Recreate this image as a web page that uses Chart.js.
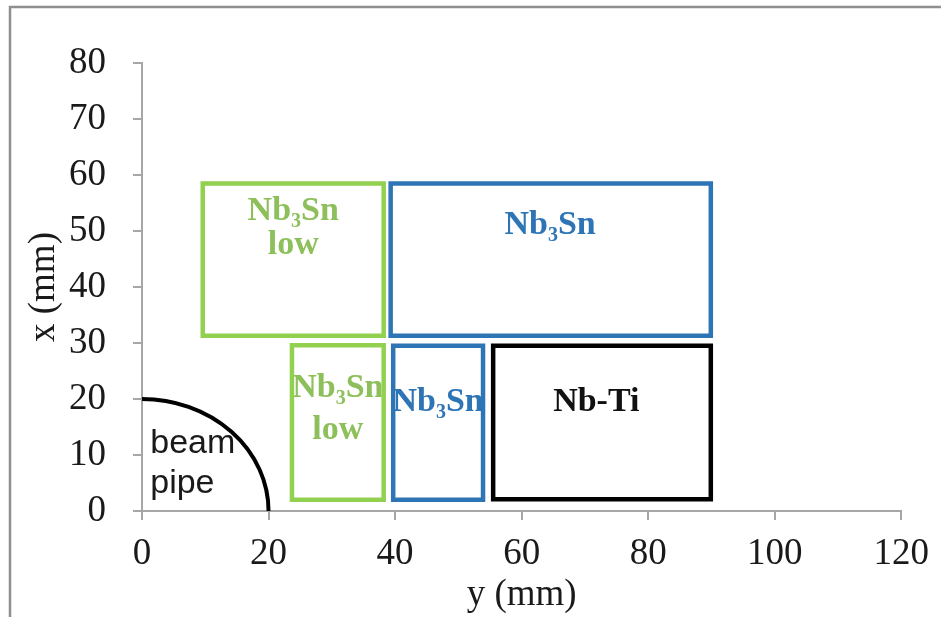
<!DOCTYPE html>
<html>
<head>
<meta charset="utf-8">
<script src="https://cdn.jsdelivr.net/npm/chart.js@4/dist/chart.umd.min.js"></script>
<style>
  html, body { margin: 0; padding: 0; background: #ffffff; }
  canvas { display: block; }
</style>
</head>
<body>
<canvas id="chart" width="941" height="617"></canvas>
<script>
// Coil block outlines in the (y, x) quadrant, in mm
const blockNames  = ['Nb3Sn low outer', 'Nb3Sn low inner', 'Nb3Sn outer', 'Nb3Sn inner', 'Nb-Ti'];
const blockLeft   = [9.6, 23.7, 39.3, 39.7, 55.5];
const blockRight  = [38.2, 38.2, 89.9, 53.9, 89.9];
const blockBottom = [31.3, 2.0, 31.3, 2.0, 2.1];
const blockTop    = [58.5, 29.6, 58.5, 29.5, 29.5];
const blockColors = ['#92D050', '#92D050', '#2E75B6', '#2E75B6', '#000000'];

// Beam pipe radius, mm
const beamPipeRadius = 20;

// Axis ranges and tick steps
const xTicks = [0, 20, 40, 60, 80, 100, 120];
const yTicks = [0, 10, 20, 30, 40, 50, 60, 70, 80];

// Text inside each block ("_3" marks a subscript 3)
const blockLabelLines = [['Nb_3Sn', 'low'], ['Nb_3Sn', 'low'], ['Nb_3Sn'], ['Nb_3Sn'], ['Nb-Ti']];
const blockLabelColors = ['#8DC05A', '#8DC05A', '#2E75B6', '#2E75B6', '#111111'];
// label anchor (centre x, middle y of each line), in data units
const blockLabelX = [23.9, 30.95, 64.5, 46.8, 71.8];
const blockLabelY = [[53.6, 47.5], [22.0, 14.5], [51.1], [19.5], [19.5]];

const pipeLabelLines = ['beam', 'pipe'];
const pipeLabelX = 1.3;
const pipeLabelY = [12.1, 4.8];

const datasets = blockNames.map((name, i) => ({
  label: name,
  data: [
    { x: blockLeft[i],  y: blockBottom[i] },
    { x: blockLeft[i],  y: blockTop[i] },
    { x: blockRight[i], y: blockTop[i] },
    { x: blockRight[i], y: blockBottom[i] },
    { x: blockLeft[i],  y: blockBottom[i] }
  ],
  showLine: true,
  fill: false,
  borderColor: blockColors[i],
  borderWidth: 4.5,
  borderJoinStyle: 'miter',
  borderCapStyle: 'square',
  pointRadius: 0,
  pointHoverRadius: 0,
  tension: 0
}));

// Draws "Nb_3Sn"-style text with a lowered small 3
function drawRichText(ctx, text, cx, cy, size, family, weight) {
  const parts = text.split(/_(\d)/);
  const segs = parts.map((t, k) => ({ t, sub: k % 2 === 1 }));
  const fontFor = s => `${weight} ${s.sub ? Math.round(size * 0.6) : size}px ${family}`;
  let total = 0;
  segs.forEach(s => { ctx.font = fontFor(s); s.w = ctx.measureText(s.t).width; total += s.w; });
  let x = cx - total / 2;
  ctx.textAlign = 'left';
  ctx.textBaseline = 'middle';
  segs.forEach(s => {
    ctx.font = fontFor(s);
    ctx.fillText(s.t, x, s.sub ? cy + size * 0.32 : cy);
    x += s.w;
  });
}

const annotations = {
  id: 'annotations',
  beforeDraw(chart) {
    const ctx = chart.ctx;
    ctx.save();
    ctx.fillStyle = '#ffffff';
    ctx.fillRect(0, 0, chart.width, chart.height);
    // frame edges
    ctx.strokeStyle = '#8f8f8f';
    ctx.lineWidth = 2.5;
    ctx.beginPath();
    ctx.moveTo(10, chart.height);
    ctx.lineTo(10, 7);
    ctx.lineTo(chart.width, 7);
    ctx.stroke();
    ctx.restore();
  },
  beforeDatasetsDraw(chart) {
    const ctx = chart.ctx;
    const xs = chart.scales.x, ys = chart.scales.y;
    blockLabelLines.forEach((lines, i) => {
      const l = xs.getPixelForValue(blockLeft[i]), r = xs.getPixelForValue(blockRight[i]);
      const t = ys.getPixelForValue(blockTop[i]), b = ys.getPixelForValue(blockBottom[i]);
      ctx.save();
      ctx.beginPath();
      ctx.rect(l, t, r - l, b - t);
      ctx.clip();
      ctx.fillStyle = blockLabelColors[i];
      lines.forEach((line, j) => {
        drawRichText(ctx, line, xs.getPixelForValue(blockLabelX[i]), ys.getPixelForValue(blockLabelY[i][j]),
          34, '"Liberation Serif", "Times New Roman", serif', 'bold');
      });
      ctx.restore();
    });
  },
  afterDatasetsDraw(chart) {
    const ctx = chart.ctx;
    const xs = chart.scales.x, ys = chart.scales.y;
    const x0 = xs.getPixelForValue(0), y0 = ys.getPixelForValue(0);
    const rx = xs.getPixelForValue(beamPipeRadius) - x0;
    const ry = y0 - ys.getPixelForValue(beamPipeRadius);
    ctx.save();
    ctx.strokeStyle = '#000000';
    ctx.lineWidth = 4;
    ctx.beginPath();
    ctx.ellipse(x0, y0, rx, ry, 0, -Math.PI / 2, 0);
    ctx.stroke();
    ctx.fillStyle = '#1a1a1a';
    ctx.font = '34px "Liberation Sans", Arial, sans-serif';
    ctx.textAlign = 'left';
    ctx.textBaseline = 'middle';
    pipeLabelLines.forEach((line, j) => {
      ctx.fillText(line, xs.getPixelForValue(pipeLabelX), ys.getPixelForValue(pipeLabelY[j]));
    });
    ctx.restore();
  }
};

const serif = '"Liberation Serif", "Times New Roman", serif';
const axisGray = '#a6a6a6';

new Chart(document.getElementById('chart'), {
  type: 'scatter',
  data: { datasets },
  plugins: [annotations],
  options: {
    responsive: false,
    animation: false,
    events: [],
    layout: { padding: { top: 63, right: 38, left: 0, bottom: 0 } },
    plugins: { legend: { display: false }, tooltip: { enabled: false } },
    scales: {
      x: {
        type: 'linear',
        min: xTicks[0],
        max: xTicks[xTicks.length - 1],
        afterBuildTicks: s => { s.ticks = xTicks.map(v => ({ value: v })); },
        ticks: { font: { family: serif, size: 37 }, color: '#1a1a1a', padding: 12, maxRotation: 0, autoSkip: false },
        grid: { drawOnChartArea: false, drawTicks: true, tickLength: 9, color: axisGray, lineWidth: 2 },
        border: { color: axisGray, width: 2 },
        title: { display: true, text: 'y (mm)', color: '#1a1a1a', font: { family: serif, size: 37, lineHeight: 1 }, padding: { top: 0, bottom: 3 } },
        afterFit: s => { s.height = 106; }
      },
      y: {
        type: 'linear',
        min: yTicks[0],
        max: yTicks[yTicks.length - 1],
        afterBuildTicks: s => { s.ticks = yTicks.map(v => ({ value: v })); },
        ticks: { font: { family: serif, size: 37 }, color: '#1a1a1a', padding: 27, autoSkip: false },
        grid: { drawOnChartArea: false, drawTicks: true, tickLength: 9, color: axisGray, lineWidth: 2 },
        border: { color: axisGray, width: 2 },
        title: { display: true, text: 'x (mm)', color: '#1a1a1a', font: { family: serif, size: 37, lineHeight: 1 }, padding: { top: 26, bottom: 0 } },
        afterFit: s => { s.width = 142; }
      }
    }
  }
});
</script>
</body>
</html>
